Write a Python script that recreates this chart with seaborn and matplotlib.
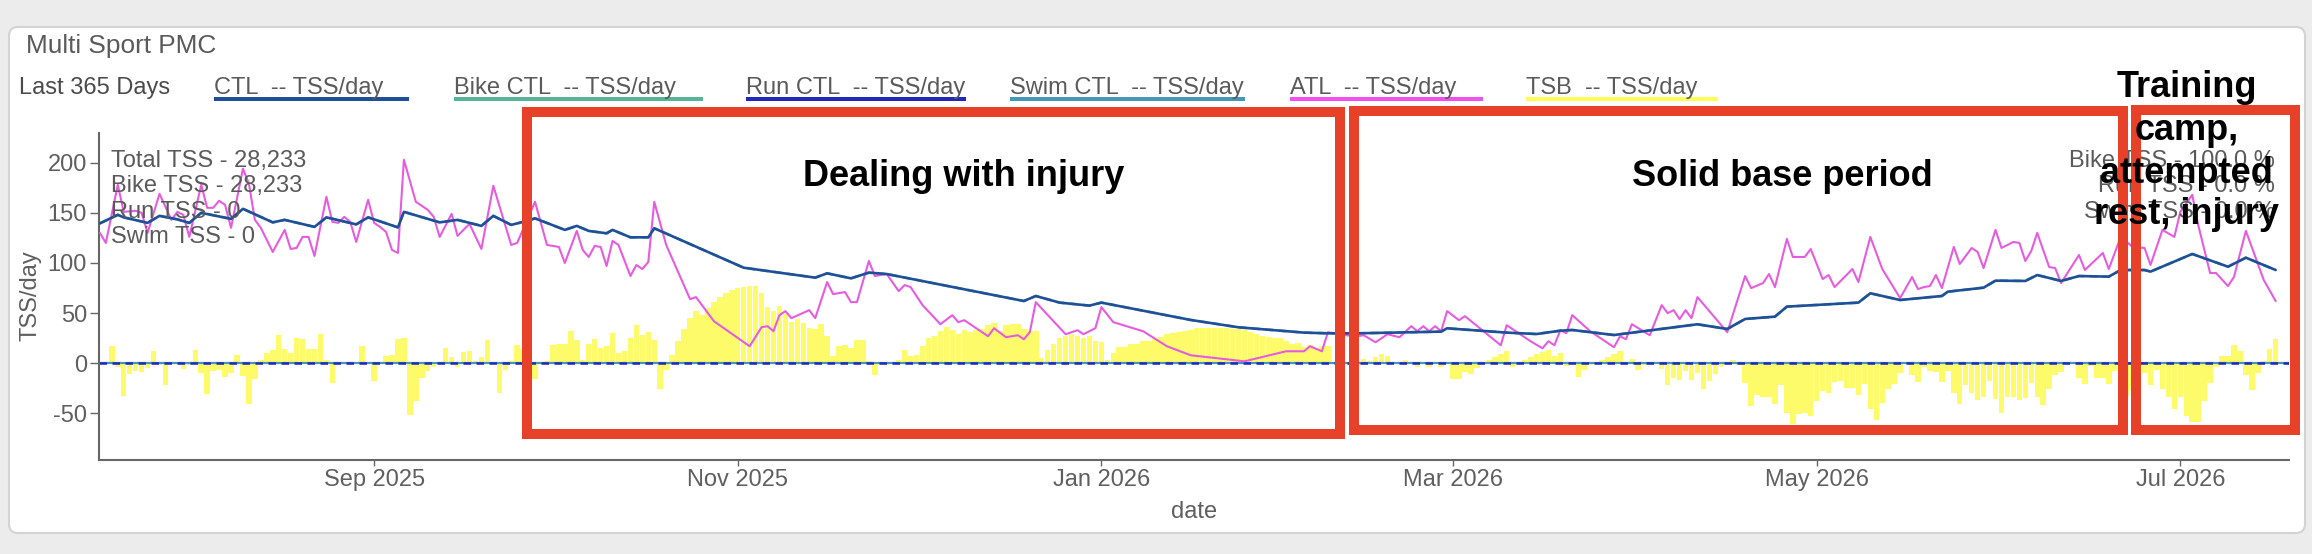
import numpy as np
import pandas as pd
import matplotlib
matplotlib.use("Agg")
import matplotlib.pyplot as plt
import matplotlib.dates as mdates
from matplotlib.patches import Rectangle, FancyBboxPatch
from matplotlib.transforms import IdentityTransform
import seaborn as sns

# ---------------- data ----------------
base_date = "2025-09-01"      # all day offsets count from this date

# TSB bars: one per day, starting at day tsb_first_day
tsb_first_day = -44
tsb_values = [
    17, -4, -33, -11, -8, -9, -5, 12, -2, -22, 0, 0, -6, -2, 13, -10, -31, -8, -7, -14,
    -10, 8, -13, -41, -16, 3, 10, 13, 28, 14, 10, 25, 24, 14, 14, 29, 3, -20, 0, 0,
    -2, 0, 17, 0, -18, 1, 7, 8, 24, 25, -52, -38, -15, -8, -4, -1, 15, 6, -4,
    11, 12, 2, 6, 23, 0, -30, -7, 2, 18, 14, -12, -16, 0, 2, 18, 19, 19, 32, 23,
    3, 19, 24, 15, 17, 30, 10, 12, 25, 38, 28, 31, 23, -26, -7, 8, 22, 34, 45, 52,
    48, 55, 61, 66, 70, 73, 75, 76, 77, 77, 70, 56, 52, 57, 49, 41, 44, 40, 35, 34, 39,
    27, 7, 17, 18, 15, 23, 23, 2, -12, 0, -2, 1, 3, 13, 7, 8, 17, 25, 27, 32,
    36, 33, 29, 33, 31, 33, 34, 38, 40, 32, 38, 39, 39, 34, 32, 32, 5, 13, 19, 25,
    27, 29, 27, 25, 27, 22, 21, 3, 10, 16, 16, 19, 19, 22, 22, 24, 26, 29, 30, 31, 32, 33,
    35, 35, 35, 35, 35, 35, 34, 34, 33, 31, 29, 27, 26, 25, 25, 22, 19, 20, 16, 18,
    15, 17, 17, -1, 1, 0, 1, 2,
    4, 2, 6, 9, 7, 1, 0, 3, 0, -4, 0, -4, 0, -4, 0, -16, -16, -9, -11, -5,
    0, 3, 6, 9, 12, -4, 0, 3, 6, 9, 11, 13, 7,
    10, -3, 0, -14, -7, -2, 0, 3, 6, 9, 12, 0, 4, -7, -2, -1, 1, -6, -22, -15,
    -17, -8, -17, -10, -26, -18, -11, -4, 0, 3, -2, -20, -43, -32, -34, -34, -41, -22, -50, -61,
    -51, -50, -53, -38, -28, -30, -19, -18, -25, -25, -32, -21, -46, -57, -40, -26, -21, -10, 0, -12,
    -19, -4,
    -8, -9, -19, -8, -30, -41, -22, -30, -37, -34, -18, -36, -50, -34, -34, -37, -35, -20, -34, -42,
    -26, -12, -9, -1, 0, -15, -21, -3, -15, -15, -21, -8, -25, -33, -27, -23,
    -10, -22, -7, -26, -34, -46, -34, -53, -59, -59, -38, -20, -4, 7, 7, 18, 12, -12, -27, -10,
    2, 14, 24,
]

atl_days = [
    -46, -45, -43, -42, -40, -39, -38, -36, -34, -33, -32, -31,
    -29, -28, -27, -26, -25, -24, -22, -21, -20, -19, -17, -15,
    -14, -13, -12, -11, -10, -8, -7, -6, -5, -4, -3, -1,
    0, 1, 2, 3, 4, 5, 7, 9, 10, 11, 13, 14,
    16, 18, 20, 23, 24, 27, 29, 31, 32, 34, 35, 36,
    37, 38, 39, 40, 41, 43, 44, 45, 46, 47, 49, 53,
    54, 57, 63, 65, 66, 67, 68, 69, 70, 73, 74, 76,
    77, 79, 80, 81, 83, 84, 86, 88, 89, 90, 92, 95,
    97, 98, 99, 101, 103, 104, 106, 108, 109, 110, 111, 116,
    118, 119, 121, 122, 124, 129, 133, 137, 146, 153, 156, 157,
    159, 160, 163, 165, 166, 168, 170, 172, 174, 175, 176, 177,
    178, 179, 180, 182, 183, 189, 190, 194, 196, 197, 198, 199,
    200, 201, 204, 208, 209, 210, 211, 214, 216, 217, 218, 219,
    220, 221, 222, 227, 230, 231, 233, 234, 235, 237, 238, 240,
    241, 243, 244, 245, 248, 249, 251, 253, 256, 258, 259, 260,
    261, 262, 263, 265, 266, 268, 269, 270, 272, 273, 275, 276,
    277, 278, 279, 281, 282, 283, 286, 287, 290, 291, 293, 295,
    297, 298, 300, 302, 303, 305, 306, 308, 309, 311, 312, 314,
    317, 319,
]
atl_values = [
    130, 120, 178, 151, 152, 150, 130, 169, 143, 151, 148, 126,
    178, 155, 155, 162, 158, 135, 194, 179, 143, 135, 111, 133,
    114, 115, 126, 126, 107, 166, 141, 140, 146, 141, 121, 163,
    140, 136, 131, 113, 110, 203, 161, 153, 146, 126, 149, 127,
    139, 114, 177, 118, 120, 161, 118, 116, 100, 132, 113, 106,
    117, 116, 97, 122, 118, 87, 98, 94, 101, 161, 118, 64,
    66, 42, 17, 36, 37, 32, 48, 52, 45, 53, 45, 81,
    69, 71, 61, 61, 102, 87, 89, 72, 78, 76, 58, 39,
    48, 41, 43, 35, 27, 35, 26, 28, 24, 31, 61, 29,
    33, 29, 35, 56, 41, 32, 17, 8, 2, 12, 12, 17,
    12, 31, 28, 27, 28, 21, 29, 26, 37, 32, 37, 32,
    37, 32, 52, 43, 47, 18, 38, 22, 15, 22, 18, 33,
    30, 48, 32, 16, 27, 24, 39, 28, 58, 50, 53, 44,
    53, 45, 66, 31, 87, 75, 80, 89, 76, 124, 106, 106,
    114, 84, 88, 76, 94, 81, 126, 94, 65, 86, 74, 76,
    77, 88, 75, 116, 99, 115, 111, 95, 133, 115, 121, 120,
    102, 112, 130, 96, 95, 80, 108, 93, 110, 94, 126, 116,
    115, 98, 133, 126, 151, 168, 138, 90, 90, 77, 86, 132,
    83, 62,
]

ctl_days = [
    -46, -43, -42, -38, -36, -33, -31, -29, -24, -22,
    -17, -15, -10, -8, -3, -1, 4, 5, 11, 14,
    18, 20, 23, 25, 27, 32, 34, 36, 39, 40,
    43, 46, 47, 62, 74, 76, 80, 83, 86, 109,
    111, 115, 120, 122, 137, 145, 156, 160, 165, 171,
    179, 180, 190, 195, 199, 201, 208, 222, 227, 230,
    235, 237, 249, 251, 256, 260, 263, 264, 270, 272,
    277, 279, 283, 286, 291, 293, 297, 298, 305, 311,
    314, 319,
]
ctl_values = [
    139.5, 148, 145.5, 140, 147, 143.5, 140, 150, 144, 154,
    140.5, 143, 136, 145.5, 138.5, 145.5, 135.5, 151, 140.5, 143,
    137, 147, 138, 141, 144.5, 133, 137, 132, 129.6, 133,
    125.6, 125.6, 134.6, 95.3, 85.4, 89.7, 84.7, 90.4, 89, 62.1,
    67.1, 60.5, 57.5, 60.5, 43.2, 35.9, 30.6, 29.9, 29.9, 30.6,
    31.6, 34.9, 30.6, 29.2, 32.5, 33.2, 28.2, 38.9, 34.2, 44.2,
    46.5, 56.5, 60.5, 69.8, 63.1, 65.4, 67.1, 71.4, 75.4, 82.4,
    82.1, 88, 82.1, 87, 86.4, 93, 93, 91.4, 109, 96.3,
    105.3, 93,
]

tick_dates = ["2025-09-01", "2025-11-01", "2026-01-01", "2026-03-01", "2026-05-01", "2026-07-01"]
tick_labels = ["Sep 2025", "Nov 2025", "Jan 2026", "Mar 2026", "May 2026", "Jul 2026"]
y_ticks = [-50, 0, 50, 100, 150, 200]

legend_labels = ["CTL  -- TSS/day", "Bike CTL  -- TSS/day", "Run CTL  -- TSS/day",
                 "Swim CTL  -- TSS/day", "ATL  -- TSS/day", "TSB  -- TSS/day"]
legend_colors = ["#1f4f99", "#55b596", "#2128b8", "#4497b9", "#f050f0", "#ffff55"]

stats_left = ["Total TSS - 28,233", "Bike TSS - 28,233", "Run TSS - 0", "Swim TSS - 0"]
stats_right = ["Bike TSS - 100.0 %", "Run TSS - 0.0 %", "Swim TSS - 0.0 %"]

notes = ["Dealing with injury", "Solid base period"]
note_camp = ["Training", "camp,", "attempted", "rest, injury"]

# ---------------- styling ----------------
W, H = 2312, 554
ctl_color, bike_color, run_color, swim_color, atl_color, tsb_color = legend_colors
atl_line = "#e65ce0"
bar_yellow = "#fefb6b"
red = "#e8412a"
grey_txt = "#5a5a5a"

sns.set_theme(style="ticks")
plt.rcParams["font.family"] = ["Liberation Sans", "DejaVu Sans"]
plt.rcParams["axes.unicode_minus"] = False


def fx(x):
    return x / W


def fy(y):
    return 1 - y / H


base = pd.Timestamp(base_date)
tsb_df = pd.DataFrame({
    "date": base + pd.to_timedelta(np.arange(len(tsb_values)) + tsb_first_day, unit="D"),
    "tsb": tsb_values,
})
atl_df = pd.DataFrame({"date": base + pd.to_timedelta(atl_days, unit="D"), "atl": atl_values})
ctl_df = pd.DataFrame({"date": base + pd.to_timedelta(ctl_days, unit="D"), "ctl": ctl_values})

fig = plt.figure(figsize=(W / 100, H / 100), dpi=100)
fig.patch.set_facecolor("#ececec")

# white rounded panel
panel = FancyBboxPatch((9, H - 533), 2296, 506, boxstyle="round,pad=0,rounding_size=9",
                       facecolor="white", edgecolor="#d3d3d3", linewidth=1.5,
                       transform=IdentityTransform(), zorder=-5)
fig.add_artist(panel)

ax = fig.add_axes([fx(98.7), fy(460), fx(2289.4 - 98.7), (460 - 132.7) / H])
ax.set_facecolor("white")

ax.bar(tsb_df["date"], tsb_df["tsb"], width=0.92, color=bar_yellow, linewidth=0, zorder=1)
ax.axhline(0, color=swim_color, lw=1.6, zorder=2)
ax.axhline(0, color=run_color, lw=1.8, ls=(0, (3, 2.2)), zorder=2.1)
sns.lineplot(data=ctl_df, x="date", y="ctl", ax=ax, color=bike_color, lw=1.9,
             linestyle=(0, (3, 2)), estimator=None, zorder=3)
sns.lineplot(data=atl_df, x="date", y="atl", ax=ax, color=atl_line, lw=1.5,
             estimator=None, zorder=4)
sns.lineplot(data=ctl_df, x="date", y="ctl", ax=ax, color=ctl_color, lw=1.9,
             estimator=None, zorder=5)

x0 = mdates.date2num(base)
ax.set_xlim(x0 - 46.2, x0 + 321.3)
ax.set_ylim(-96.4, 229.9)
ax.set_xticks(pd.to_datetime(tick_dates))
ax.set_xticklabels(tick_labels)
ax.set_yticks(y_ticks)
ax.set_yticklabels([str(v) for v in y_ticks])
ax.set_xlabel("")
ax.set_ylabel("")
for side in ["top", "right"]:
    ax.spines[side].set_visible(False)
for side in ["left", "bottom"]:
    ax.spines[side].set_color("#666666")
    ax.spines[side].set_linewidth(1.5)
ax.tick_params(axis="y", length=6.5, width=1, color="#666666", pad=2,
               labelsize=17, labelcolor="#5f5f5f")
ax.tick_params(axis="x", length=4.3, width=1, color="#666666", pad=2,
               labelsize=17, labelcolor="#5f5f5f")

# axis titles
fig.text(fx(30.6), fy(296), "TSS/day", rotation=90, ha="center", va="center",
         fontsize=17, color="#5f5f5f")
fig.text(fx(1194), fy(511.7), "date", ha="center", va="center", fontsize=17, color="#5f5f5f")

# title and legend row
fig.text(fx(26), fy(53.3), "Multi Sport PMC", fontsize=18.9, color=grey_txt, va="baseline")
fig.text(fx(19), fy(94.3), "Last 365 Days", fontsize=17, color="#4a4a4a", va="baseline")
leg_x = [213.5, 453.5, 745.7, 1010, 1289.8, 1525.7]
leg_w = [195.5, 249.5, 220, 235, 193, 192]
for label, color, lx, lw in zip(legend_labels, legend_colors, leg_x, leg_w):
    fig.text(fx(lx), fy(94.3), label, fontsize=17, color=grey_txt, va="baseline")
    fig.add_artist(Rectangle((fx(lx), fy(100.7)), fx(lw), 4 / H, facecolor=color,
                             edgecolor="none", zorder=3))

# summary text
for i, s in enumerate(stats_left):
    fig.text(fx(111), fy(166.7 + 25.5 * i), s, fontsize=17, color=grey_txt, va="baseline", zorder=3)
for i, s in enumerate(stats_right):
    fig.text(fx(2275), fy(166.7 + 25.5 * i), s, fontsize=17, color=grey_txt,
             ha="right", va="baseline", zorder=3)

# red annotation boxes (outer pixel edges)
boxes = [(522, 107, 1345, 439), (1349, 106, 2128, 435), (2131, 105, 2300, 435)]
for l, t, r, b in boxes:
    fig.add_artist(Rectangle((fx(l + 5), fy(b - 5)), fx(r - l - 10), (b - t - 10) / H,
                             facecolor="none", edgecolor=red, linewidth=7.2, zorder=5))

fig.text(fx(963.6), fy(186), notes[0], fontsize=26, fontweight="bold", color="black",
         ha="center", va="baseline", zorder=6)
fig.text(fx(1782), fy(186), notes[1], fontsize=26, fontweight="bold", color="black",
         ha="center", va="baseline", zorder=6)
for line, yb in zip(note_camp, [96.7, 140, 182.7, 224]):
    fig.text(fx(2186.5), fy(yb), line, fontsize=26, fontweight="bold", color="black",
             ha="center", va="baseline", zorder=6)

fig.savefig("out.png", dpi=100, facecolor=fig.get_facecolor())
